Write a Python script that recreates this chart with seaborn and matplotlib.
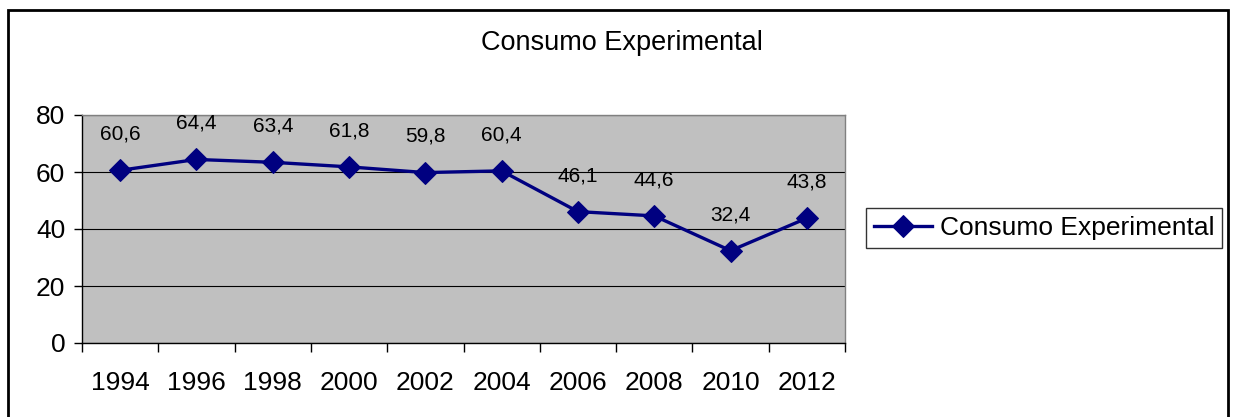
import numpy as np
import pandas as pd
import seaborn as sns
import matplotlib.pyplot as plt
from matplotlib.patches import Rectangle
from matplotlib.ticker import FixedLocator

years = ["1994", "1996", "1998", "2000", "2002", "2004", "2006", "2008", "2010", "2012"]
consumo = [60.6, 64.4, 63.4, 61.8, 59.8, 60.4, 46.1, 44.6, 32.4, 43.8]
labels = ["60,6", "64,4", "63,4", "61,8", "59,8", "60,4", "46,1", "44,6", "32,4", "43,8"]
serie = "Consumo Experimental"

df = pd.DataFrame({"Ano": years, "Valor": consumo})

plt.rcParams["font.family"] = ["Liberation Sans", "DejaVu Sans"]

fig = plt.figure(figsize=(12.35, 4.17), dpi=100)
ax = fig.add_axes([82 / 1235, 1 - 343 / 417, 763 / 1235, 228 / 417])

sns.lineplot(data=df, x="Ano", y="Valor", ax=ax, color="#000080", linewidth=2.4,
             marker="D", markersize=11, markeredgecolor="#000080", label=serie)

# rótulos de dados
for i, (v, lab) in enumerate(zip(consumo, labels)):
    ax.annotate(lab, (i, v), xytext=(0, 26), textcoords="offset points",
                ha="center", va="center", fontsize=15)

ax.set_facecolor("#C0C0C0")
ax.set_xlim(-0.5, len(years) - 0.5)
ax.set_ylim(0, 80)
ax.set_yticks([0, 20, 40, 60, 80])
ax.yaxis.grid(True, color="black", linewidth=0.8)
ax.set_axisbelow(True)
ax.set_xlabel("")
ax.set_ylabel("")

ax.xaxis.set_minor_locator(FixedLocator(np.arange(-0.5, len(years), 1.0)))
ax.tick_params(axis="x", which="major", length=0, pad=20, labelsize=19)
ax.tick_params(axis="x", which="minor", length=6.5, width=1, color="black")
ax.tick_params(axis="y", length=6, width=1, pad=6, labelsize=19)

for s in ["left", "bottom"]:
    ax.spines[s].set_color("black")
    ax.spines[s].set_linewidth(1)
for s in ["top", "right"]:
    ax.spines[s].set_color("#808080")
    ax.spines[s].set_linewidth(1)

fig.text(622 / 1235, 1 - 43 / 417, serie, ha="center", va="center", fontsize=19.5)

leg = ax.legend(loc="center", bbox_to_anchor=(1044 / 1235, 1 - 228 / 417),
                bbox_transform=fig.transFigure, fontsize=19, frameon=True,
                fancybox=False, handlelength=2.2, borderpad=0.3, handletextpad=0.3,
                borderaxespad=0)
leg.get_frame().set_edgecolor("black")
leg.get_frame().set_linewidth(1)

# moldura externa do gráfico
fig.patches.append(Rectangle((8 / 1235, -0.1), 1220 / 1235, 1.1 - 10 / 417,
                             transform=fig.transFigure, fill=False,
                             edgecolor="black", linewidth=2))

fig.savefig("out.png", dpi=100)
